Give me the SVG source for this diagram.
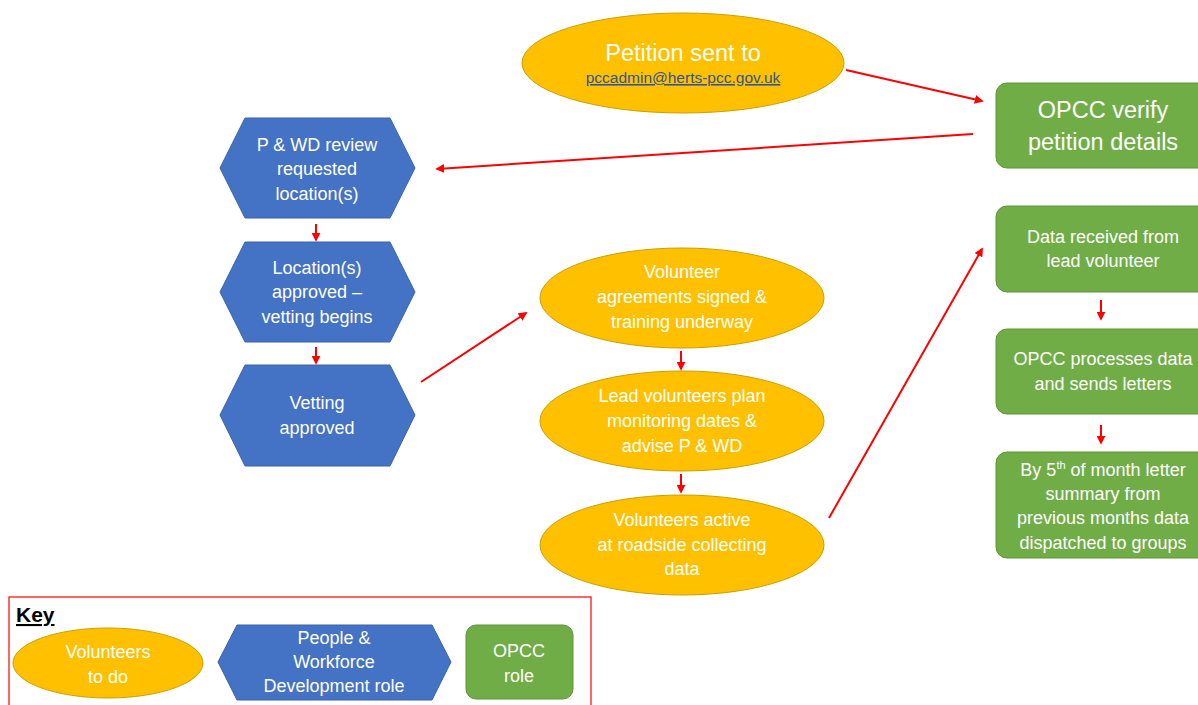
<svg xmlns="http://www.w3.org/2000/svg" width="1198" height="705" viewBox="0 0 1198 705">
<defs>
<style>
.vol{fill:#FFC000;stroke:#C9A000;stroke-width:1}
.pwd{fill:#4472C4;stroke:#3A62A8;stroke-width:1}
.opcc{fill:#70AD47;stroke:#5E9438;stroke-width:1}
.t{font-family:"Liberation Sans",Arial,sans-serif;fill:#FFFFFF;text-anchor:middle;font-size:18px}
.big{font-size:23.5px}
.con line{stroke:#FF0000;stroke-width:2;marker-end:url(#ah)}
</style>
<marker id="ah" viewBox="0 0 10 10" refX="8" refY="5" markerWidth="4.5" markerHeight="4.5" orient="auto">
<path d="M0,0 L10,5 L0,10 Z" fill="#FF0000"/>
</marker>
</defs>
<rect width="1198" height="705" fill="#FFFFFF"/>

<g id="petition">
<ellipse class="vol" cx="683" cy="63" rx="161" ry="50"/>
<text class="t big" x="683" y="61">Petition sent to</text>
<text x="683" y="83" font-family="'Liberation Sans',Arial,sans-serif" font-size="15.5" fill="#2F5597" text-anchor="middle" text-decoration="underline">pccadmin@herts-pcc.gov.uk</text>
</g>

<g id="opcc-verify">
<rect class="opcc" x="996" y="83" width="220" height="85" rx="11"/>
<text class="t big" x="1103" y="118">OPCC verify</text>
<text class="t big" x="1103" y="150">petition details</text>
</g>

<g id="pwd-review">
<polygon class="pwd" points="220,168 245,118 390,118 415,168 390,218 245,218"/>
<text class="t" x="317" y="151">P &amp; WD review</text>
<text class="t" x="317" y="175">requested</text>
<text class="t" x="317" y="200">location(s)</text>
</g>

<g id="location-approved">
<polygon class="pwd" points="220,292 245,242 390,242 415,292 390,342 245,342"/>
<text class="t" x="317" y="274">Location(s)</text>
<text class="t" x="317" y="298">approved –</text>
<text class="t" x="317" y="323">vetting begins</text>
</g>

<g id="vetting-approved">
<polygon class="pwd" points="220,415 245,365 390,365 415,415 390,466 245,466"/>
<text class="t" x="317" y="409">Vetting</text>
<text class="t" x="317" y="434">approved</text>
</g>

<g id="agreements">
<ellipse class="vol" cx="682" cy="298" rx="142" ry="50"/>
<text class="t" x="682" y="278">Volunteer</text>
<text class="t" x="682" y="303">agreements signed &amp;</text>
<text class="t" x="682" y="328">training underway</text>
</g>

<g id="plan-dates">
<ellipse class="vol" cx="682" cy="421" rx="142" ry="50"/>
<text class="t" x="682" y="402">Lead volunteers plan</text>
<text class="t" x="682" y="427">monitoring dates &amp;</text>
<text class="t" x="682" y="452">advise P &amp; WD</text>
</g>

<g id="active">
<ellipse class="vol" cx="682" cy="545" rx="142" ry="50"/>
<text class="t" x="682" y="526">Volunteers active</text>
<text class="t" x="682" y="551">at roadside collecting</text>
<text class="t" x="682" y="575">data</text>
</g>

<g id="data-received">
<rect class="opcc" x="996" y="206" width="220" height="86" rx="11"/>
<text class="t" x="1103" y="243">Data received from</text>
<text class="t" x="1103" y="267">lead volunteer</text>
</g>

<g id="processes">
<rect class="opcc" x="996" y="329" width="220" height="85" rx="11"/>
<text class="t" x="1103" y="365">OPCC processes data</text>
<text class="t" x="1103" y="390">and sends letters</text>
</g>

<g id="summary">
<rect class="opcc" x="996" y="452" width="220" height="106" rx="11"/>
<text class="t" x="1103" y="476">By 5<tspan font-size="11" dy="-7">th</tspan><tspan dy="7"> of month letter</tspan></text>
<text class="t" x="1103" y="500">summary from</text>
<text class="t" x="1103" y="524">previous months data</text>
<text class="t" x="1103" y="549">dispatched to groups</text>
</g>

<g id="connectors" class="con">
<line x1="846" y1="70" x2="982" y2="101"/>
<line x1="973" y1="134" x2="437" y2="169"/>
<line x1="316" y1="224" x2="316" y2="240"/>
<line x1="316" y1="347" x2="316" y2="363"/>
<line x1="421" y1="382" x2="526" y2="313"/>
<line x1="681" y1="351" x2="681" y2="369"/>
<line x1="681" y1="474" x2="681" y2="492"/>
<line x1="829" y1="518" x2="982" y2="249"/>
<line x1="1101" y1="300" x2="1101" y2="319"/>
<line x1="1101" y1="425" x2="1101" y2="443"/>
</g>

<g id="key">
<rect x="9" y="597" width="582" height="120" fill="none" stroke="#FF0000" stroke-width="1.2"/>
<text x="16" y="622" font-family="'Liberation Sans',Arial,sans-serif" font-size="21" font-weight="bold" fill="#000000" text-decoration="underline">Key</text>
<g id="key-volunteers">
<ellipse class="vol" cx="108" cy="663" rx="95" ry="35"/>
<text class="t" x="108" y="658">Volunteers</text>
<text class="t" x="108" y="683">to do</text>
</g>
<g id="key-pwd">
<polygon class="pwd" points="218,662 237,625 432,625 451,662 432,700 237,700"/>
<text class="t" x="334" y="644">People &amp;</text>
<text class="t" x="334" y="668">Workforce</text>
<text class="t" x="334" y="692">Development role</text>
</g>
<g id="key-opcc">
<rect class="opcc" x="466" y="625" width="107" height="74" rx="10"/>
<text class="t" x="519" y="657">OPCC</text>
<text class="t" x="519" y="682">role</text>
</g>
</g>
</svg>
